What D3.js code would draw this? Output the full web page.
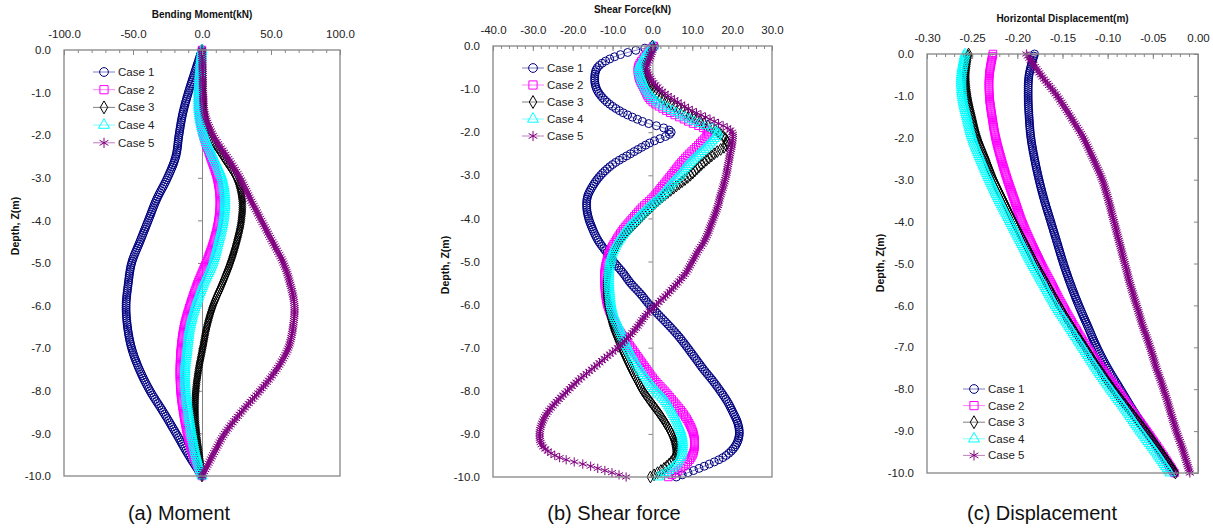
<!DOCTYPE html>
<html><head><meta charset="utf-8">
<script src="https://cdn.jsdelivr.net/npm/d3@7"></script>
<style>
body{margin:0;background:#fff}
svg{display:block}
text{font-family:"Liberation Sans",Arial,sans-serif}
</style>
</head><body>
<svg id="c" width="1213" height="528"></svg>
<script>
// ---------------- DATA ----------------
const caseNames = ["Case 1","Case 2","Case 3","Case 4","Case 5"];
const depthTicks = [0,-1,-2,-3,-4,-5,-6,-7,-8,-9,-10];

// (a) Bending moment (kN) at depth (m)
const depthA = [0,-0.5,-1,-1.5,-2,-2.5,-3,-3.5,-4,-4.5,-5,-5.5,-6,-6.5,-7,-7.5,-8,-8.5,-9,-9.5,-10];
const moment1 = [0,-5,-9.9,-14,-16.7,-19,-25,-32.8,-38.9,-45,-51,-53.5,-55,-54,-51,-45.4,-37.7,-28,-18.8,-9.9,0];
const moment2 = [0,-1.5,-2.5,-2,1,6,11,13,12,8.5,3,-3.4,-8.7,-13,-15.2,-16,-15.5,-13.5,-10.6,-6.5,0];
const moment3 = [0,0.3,0.6,1.5,6,15.5,25,29,28.5,25.2,20.5,14.5,8,3.5,0.5,-2.5,-4.5,-5,-4,-2,0];
const moment4 = [0,-1.5,-2.5,-2,1.5,8,14.5,16.7,15.5,12,7.8,1,-4.6,-8.7,-10.6,-12.3,-11.8,-9.9,-7.5,-4.5,0];
const moment5 = [0,0.5,0.8,2,8,18,27.5,35,43,51,59,64,67,66,62.5,54,42,28.5,16.5,8,0];
const momentTicks = [-100,-50,0,50,100];

// (b) Shear force (kN) at depth (m)
const depthB = [0,-0.25,-0.5,-0.75,-1,-1.25,-1.5,-1.75,-2,-2.25,-2.5,-2.75,-3,-3.25,-3.5,-3.75,-4,-4.25,-4.5,-4.75,-5,-5.25,-5.5,-5.75,-6,-6.25,-6.5,-6.75,-7,-7.25,-7.5,-7.75,-8,-8.25,-8.5,-8.75,-9,-9.25,-9.5,-9.75,-10];
const shear1 = [0.5,-9.5,-13.8,-14.5,-14,-12,-8.3,-2.5,4.7,-0.7,-5.5,-10,-13,-15,-16.3,-16.5,-16,-15,-13.7,-11.8,-9.8,-7.5,-5.5,-3,-0.8,1.7,4.3,6.7,8.8,10.8,12.8,15,17,18.8,20.2,21.4,21.8,21,18.5,13,6];
const shear2 = [0.3,-2,-3.6,-3.3,-2,-0.5,3.5,9,14,12,9.3,6.8,4.7,2.5,0.3,-2.6,-5,-7.3,-9.1,-10.6,-11.5,-12,-12,-11.8,-11.3,-10.3,-9,-7.3,-5.3,-3.4,-1.5,0.5,3,5.3,7.5,9.2,10.3,10.6,10,7.8,4];
const shear3 = [0,-1,-2,-1.5,0,3,7.5,12,16.5,18.8,15.5,12.3,9.5,6,2.5,-0.5,-3.2,-5.8,-8.1,-9.6,-10.6,-11.2,-11.5,-11.5,-11.2,-10.6,-9.9,-8.9,-7.8,-6.6,-5.3,-3.9,-2.4,-0.5,1.5,3.3,4.8,5.7,5.8,3.6,-0.5];
const shear4 = [0.3,-2,-3.3,-2.8,-1.6,0.5,5,10.5,16.4,14.5,11.8,9,6.8,4.3,2,-1,-3.8,-6.3,-8.3,-9.8,-10.6,-10.9,-10.9,-10.7,-10.4,-9.7,-8.5,-7.4,-6.2,-4.8,-3.2,-1.3,0.8,3.3,5,6.3,7.3,7.6,7.2,5.5,1.5];
const shear5 = [0.3,-0.5,-1.5,-0.5,1.8,5.5,10,15.5,20,20,19.5,19,18.5,17.8,17,16.3,15.3,14.3,13.2,11.5,10,8.5,6.3,3.8,1,-1.7,-3.7,-6,-8.7,-12,-15.2,-18.5,-21.3,-24,-26.3,-27.7,-28.3,-27.8,-24.5,-15.5,-6.6];
const shearTicks = [-40,-30,-20,-10,0,10,20,30];

// (c) Horizontal displacement (m) at depth (m)
const depthC = [0,-0.5,-1,-1.5,-2,-2.5,-3,-3.5,-4,-4.5,-5,-5.5,-6,-6.5,-7,-7.5,-8,-8.5,-9,-9.5,-10];
const disp1 = [-0.181,-0.187,-0.188,-0.187,-0.185,-0.181,-0.176,-0.170,-0.163,-0.156,-0.149,-0.141,-0.132,-0.122,-0.112,-0.100,-0.086,-0.072,-0.057,-0.042,-0.027];
const disp2 = [-0.227,-0.231,-0.231,-0.228,-0.224,-0.218,-0.211,-0.203,-0.195,-0.185,-0.174,-0.162,-0.150,-0.137,-0.123,-0.107,-0.090,-0.074,-0.057,-0.041,-0.026];
const disp3 = [-0.254,-0.257,-0.255,-0.250,-0.244,-0.235,-0.226,-0.215,-0.204,-0.192,-0.180,-0.167,-0.154,-0.140,-0.125,-0.110,-0.094,-0.076,-0.058,-0.041,-0.025];
const disp4 = [-0.258,-0.262,-0.261,-0.256,-0.250,-0.241,-0.231,-0.220,-0.208,-0.196,-0.184,-0.171,-0.158,-0.143,-0.128,-0.113,-0.097,-0.080,-0.064,-0.047,-0.031];
const disp5 = [-0.190,-0.174,-0.156,-0.141,-0.127,-0.116,-0.106,-0.099,-0.093,-0.087,-0.081,-0.075,-0.068,-0.061,-0.053,-0.046,-0.038,-0.031,-0.024,-0.016,-0.009];
const dispTicks = [-0.30,-0.25,-0.20,-0.15,-0.10,-0.05,0.00];

// ---------------- STYLE ----------------
const colors = ["#000080","#FF00FF","#000000","#00FFFF","#800080"];
const symbols = [d3.symbolCircle,d3.symbolSquare,d3.symbolDiamond,d3.symbolTriangle,d3.symbolAsterisk];
const symSizes = [50,56,40,44,60];
const axisGrey = "#868686";

const svg = d3.select("#c");

function sampleMarkers(node, yTargets){
  const L = node.getTotalLength();
  const n = Math.max(2, Math.ceil(L*2));
  const pts = [];
  for(let i=0;i<=n;i++){ const p = node.getPointAtLength(L*i/n); pts.push([p.x,p.y]); }
  const out = []; let j = 0;
  for(const ty of yTargets){
    while(j < pts.length-2 && pts[j+1][1] < ty) j++;
    const a = pts[j], b = pts[j+1];
    let t = b[1]===a[1] ? 0 : (ty-a[1])/(b[1]-a[1]);
    t = Math.max(0, Math.min(1, t));
    out.push([a[0]+(b[0]-a[0])*t, ty]);
  }
  return out;
}

function panel(cfg){
  const {L,R,T,B} = cfg;
  const x = d3.scaleLinear().domain(cfg.xDomain).range([L,R]);
  const y = d3.scaleLinear().domain([0,-10]).range([T,B]);
  const g = svg.append("g");

  // zero (vertical) axis with ticks
  const za = g.append("g").attr("transform",`translate(${x(0)},0)`)
    .call(d3.axisLeft(y).tickValues(depthTicks).tickSize(4).tickFormat(""));
  za.selectAll("path,line").attr("stroke",axisGrey);

  // series
  const yTargets = d3.range(0,201).map(i => y(-i*0.05));
  cfg.series.forEach((vals,i) => {
    const data = vals.map((v,k)=>({v, z: cfg.depth[k]}));
    const line = d3.line().x(d=>x(d.v)).y(d=>y(d.z)).curve(d3.curveCatmullRom.alpha(0.5));
    const p = g.append("path").attr("d", line(data)).attr("fill","none")
      .attr("stroke", colors[i]).attr("stroke-opacity",0.5).attr("stroke-width",1);
    const pts = sampleMarkers(p.node(), yTargets);
    const sym = d3.symbol().type(symbols[i]).size(symSizes[i]);
    g.append("g").selectAll("path").data(pts).join("path")
      .attr("transform", d=>`translate(${d[0]},${d[1]})`)
      .attr("d", sym).attr("fill","none").attr("stroke",colors[i]).attr("stroke-width",1);
  });

  // border
  g.append("rect").attr("x",L).attr("y",T).attr("width",R-L).attr("height",B-T)
    .attr("fill","none").attr("stroke",axisGrey).attr("stroke-width",1.3);

  // top axis: major + minor ticks pointing inside
  const minor = g.append("g").attr("transform",`translate(0,${T})`)
    .call(d3.axisTop(x).tickValues(cfg.minorTicks).tickSize(-3).tickFormat(""));
  minor.select(".domain").remove();
  minor.selectAll("line").attr("stroke",axisGrey);
  const major = g.append("g").attr("transform",`translate(0,${T})`)
    .call(d3.axisTop(x).tickValues(cfg.ticks).tickSize(-5).tickPadding(12).tickFormat(cfg.fmt));
  major.select(".domain").remove();
  major.selectAll("line").attr("stroke",axisGrey);
  major.selectAll("text").attr("font-size",11.5).attr("fill","#222")
    .attr("font-family","'Liberation Sans',Arial,sans-serif");

  // left labels
  const la = g.append("g").attr("transform",`translate(${L},0)`)
    .call(d3.axisLeft(y).tickValues(depthTicks).tickSize(0).tickPadding(13).tickFormat(d=>d.toFixed(1)));
  la.select(".domain").remove();
  la.selectAll("text").attr("font-size",11.5).attr("fill","#222")
    .attr("font-family","'Liberation Sans',Arial,sans-serif");

  // titles
  g.append("text").attr("x",(L+R)/2).attr("y",cfg.titleY).attr("text-anchor","middle")
    .attr("font-size",10).attr("font-weight","bold").attr("fill","#111").text(cfg.title);
  g.append("text").attr("transform",`translate(${cfg.ytX},${cfg.ytY}) rotate(-90)`)
    .attr("text-anchor","middle").attr("font-size",10.5).attr("font-weight","bold").attr("fill","#111")
    .text("Depth, Z(m)");

  // legend
  caseNames.forEach((name,i) => {
    const ly = cfg.legY + i*cfg.legStep;
    const lg = g.append("g");
    lg.append("line").attr("x1",cfg.legX).attr("x2",cfg.legX+22).attr("y1",ly).attr("y2",ly)
      .attr("stroke",colors[i]).attr("stroke-opacity",0.5).attr("stroke-width",1);
    lg.append("path").attr("transform",`translate(${cfg.legX+11},${ly})`)
      .attr("d", d3.symbol().type(symbols[i]).size(symSizes[i]*1.2))
      .attr("fill","none").attr("stroke",colors[i]).attr("stroke-width",1);
    lg.append("text").attr("x",cfg.legX+25).attr("y",ly).attr("dy","0.35em")
      .attr("font-size",11.5).attr("fill","#222").text(name);
  });

  // caption
  svg.append("text").attr("x",cfg.capX).attr("y",520).attr("text-anchor","middle")
    .attr("font-size",20).attr("fill","#111")
    .attr("font-family","'DejaVu Sans Condensed','DejaVu Sans',sans-serif")
    .attr("font-stretch","condensed").text(cfg.caption);
}

panel({L:64,R:340,T:50,B:476, xDomain:[-100,100], ticks:momentTicks,
  minorTicks:d3.range(-100,101,10), fmt:d=>d.toFixed(1),
  title:"Bending Moment(kN)", titleY:18, ytX:19, ytY:226,
  series:[moment1,moment2,moment3,moment4,moment5], depth:depthA,
  legX:93, legY:72, legStep:17.7, capX:179, caption:"(a) Moment"});

panel({L:493,R:772,T:46,B:477, xDomain:[-40,30], ticks:shearTicks,
  minorTicks:d3.range(-40,31,2), fmt:d=>d.toFixed(1),
  title:"Shear Force(kN)", titleY:13, ytX:449, ytY:265,
  series:[shear1,shear2,shear3,shear4,shear5], depth:depthB,
  legX:522, legY:68, legStep:17, capX:614, caption:"(b) Shear force"});

panel({L:927,R:1198,T:54,B:473, xDomain:[-0.30,0], ticks:dispTicks,
  minorTicks:d3.range(0,31).map(k=>-k/100), fmt:d=>d.toFixed(2),
  title:"Horizontal Displacement(m)", titleY:22, ytX:884, ytY:263,
  series:[disp1,disp2,disp3,disp4,disp5], depth:depthC,
  legX:963, legY:389, legStep:16.6, capX:1042, caption:"(c) Displacement"});
</script>
</body></html>
